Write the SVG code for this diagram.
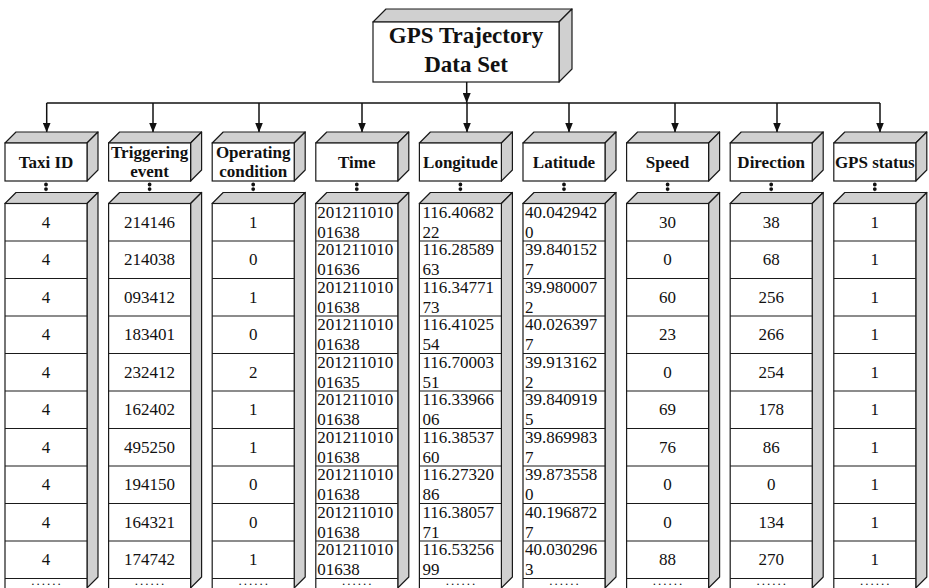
<svg xmlns="http://www.w3.org/2000/svg" width="929" height="588" viewBox="0 0 929 588">
<style>
.face{fill:#fff;stroke:#1a1a1a;stroke-width:1.2}
.shade{fill:#d0d0d0;stroke:#1a1a1a;stroke-width:1.2;stroke-linejoin:round}
.row{stroke:#1a1a1a;stroke-width:1.2}
.ttl{font-family:"Liberation Serif","Times New Roman",serif;font-weight:bold;font-size:23px;text-anchor:middle;fill:#111}
.hd{font-family:"Liberation Serif","Times New Roman",serif;font-weight:bold;font-size:17px;text-anchor:middle;fill:#111}
.c{font-family:"Liberation Serif","Times New Roman",serif;font-size:17px;text-anchor:middle;fill:#111}
.l{font-family:"Liberation Serif","Times New Roman",serif;font-size:17px;text-anchor:start;fill:#111}
.dots{font-family:"Liberation Serif","Times New Roman",serif;font-size:13px;letter-spacing:2px;text-anchor:middle;fill:#111}
.wire{stroke:#111;stroke-width:1.5;fill:none}
.dotc{stroke:#111;stroke-width:3.8;stroke-linecap:round;stroke-dasharray:0 4.6;fill:none}
</style>
<defs>
<marker id="ah" viewBox="0 0 10 8" refX="10" refY="4" markerWidth="10" markerHeight="8" markerUnits="userSpaceOnUse" orient="auto">
<path d="M0,0 L10,4 L0,8 z" fill="#111"/>
</marker>
<g id="hbox">
<polygon class="shade" points="0,143 11,132 93,132 82,143"/>
<polygon class="shade" points="82,143 93,132 93,170 82,181"/>
<rect class="face" x="0" y="143" width="82" height="38"/>
</g>
<g id="dcol">
<polygon class="shade" points="0,203.5 11,192.5 93,192.5 82,203.5"/>
<polygon class="shade" points="82,203.5 93,192.5 93,577 82,588"/>
<rect class="face" x="0" y="203.5" width="82" height="386"/>
<path class="row" d="M0,241H82M0,278.5H82M0,316H82M0,353.5H82M0,391H82M0,428.5H82M0,466H82M0,503.5H82M0,541H82M0,578.5H82"/>
<text class="dots" x="42" y="585">......</text>
</g>
</defs>

<g id="title">
<polygon class="shade" points="373,22 386,9 572,9 559,22"/>
<polygon class="shade" points="559,22 572,9 572,69 559,82"/>
<rect class="face" x="373" y="22" width="186" height="60"/>
<text class="ttl" x="466" y="43">GPS Trajectory</text>
<text class="ttl" x="466" y="72">Data Set</text>
</g>

<g id="connectors">
<line class="wire" x1="466.7" y1="82" x2="466.7" y2="103" marker-end="url(#ah)"/>
<line class="wire" x1="46.7" y1="103" x2="880" y2="103"/>
<line class="wire" x1="46.7" y1="103" x2="46.7" y2="132.5" marker-end="url(#ah)"/>
<line class="wire" x1="153" y1="103" x2="153" y2="132.5" marker-end="url(#ah)"/>
<line class="wire" x1="259" y1="103" x2="259" y2="132.5" marker-end="url(#ah)"/>
<line class="wire" x1="362" y1="103" x2="362" y2="132.5" marker-end="url(#ah)"/>
<line class="wire" x1="467" y1="103" x2="467" y2="132.5" marker-end="url(#ah)"/>
<line class="wire" x1="569" y1="103" x2="569" y2="132.5" marker-end="url(#ah)"/>
<line class="wire" x1="675" y1="103" x2="675" y2="132.5" marker-end="url(#ah)"/>
<line class="wire" x1="777" y1="103" x2="777" y2="132.5" marker-end="url(#ah)"/>
<line class="wire" x1="880" y1="103" x2="880" y2="132.5" marker-end="url(#ah)"/>
<path class="dotc" d="M46,184.5V195M149.6,184.5V195M253.2,184.5V195M356.8,184.5V195M460.4,184.5V195M564,184.5V195M667.6,184.5V195M771.2,184.5V195M874.8,184.5V195"/>
</g>

<g id="hdr-taxi" transform="translate(5,0)"><use href="#hbox"/><text class="hd" x="41" y="168">Taxi ID</text></g>
<g id="hdr-trigger" transform="translate(108.6,0)"><use href="#hbox"/><text class="hd" x="41" y="157.5">Triggering</text><text class="hd" x="41" y="177">event</text></g>
<g id="hdr-operating" transform="translate(212.2,0)"><use href="#hbox"/><text class="hd" x="41" y="157.5">Operating</text><text class="hd" x="41" y="177">condition</text></g>
<g id="hdr-time" transform="translate(315.8,0)"><use href="#hbox"/><text class="hd" x="41" y="167.5">Time</text></g>
<g id="hdr-longitude" transform="translate(419.4,0)"><use href="#hbox"/><text class="hd" x="41" y="167.5">Longitude</text></g>
<g id="hdr-latitude" transform="translate(523,0)"><use href="#hbox"/><text class="hd" x="41" y="167.5">Latitude</text></g>
<g id="hdr-speed" transform="translate(626.6,0)"><use href="#hbox"/><text class="hd" x="41" y="167.5">Speed</text></g>
<g id="hdr-direction" transform="translate(730.2,0)"><use href="#hbox"/><text class="hd" x="41" y="167.5">Direction</text></g>
<g id="hdr-gps" transform="translate(833.8,0)"><use href="#hbox"/><text class="hd" x="41" y="167.5">GPS status</text></g>

<g id="col-taxi" transform="translate(5,0)"><use href="#dcol"/>
<text class="c" x="41" y="227.5">4</text><text class="c" x="41" y="265">4</text><text class="c" x="41" y="302.5">4</text><text class="c" x="41" y="340">4</text><text class="c" x="41" y="377.5">4</text><text class="c" x="41" y="415">4</text><text class="c" x="41" y="452.5">4</text><text class="c" x="41" y="490">4</text><text class="c" x="41" y="527.5">4</text><text class="c" x="41" y="565">4</text>
</g>
<g id="col-trigger" transform="translate(108.6,0)"><use href="#dcol"/>
<text class="c" x="41" y="227.5">214146</text><text class="c" x="41" y="265">214038</text><text class="c" x="41" y="302.5">093412</text><text class="c" x="41" y="340">183401</text><text class="c" x="41" y="377.5">232412</text><text class="c" x="41" y="415">162402</text><text class="c" x="41" y="452.5">495250</text><text class="c" x="41" y="490">194150</text><text class="c" x="41" y="527.5">164321</text><text class="c" x="41" y="565">174742</text>
</g>
<g id="col-operating" transform="translate(212.2,0)"><use href="#dcol"/>
<text class="c" x="41" y="227.5">1</text><text class="c" x="41" y="265">0</text><text class="c" x="41" y="302.5">1</text><text class="c" x="41" y="340">0</text><text class="c" x="41" y="377.5">2</text><text class="c" x="41" y="415">1</text><text class="c" x="41" y="452.5">1</text><text class="c" x="41" y="490">0</text><text class="c" x="41" y="527.5">0</text><text class="c" x="41" y="565">1</text>
</g>
<g id="col-time" transform="translate(315.8,0)"><use href="#dcol"/>
<text class="l" x="1.5" y="217.5">201211010<tspan x="1.5" y="237.5">01638</tspan></text>
<text class="l" x="1.5" y="255">201211010<tspan x="1.5" y="275">01636</tspan></text>
<text class="l" x="1.5" y="292.5">201211010<tspan x="1.5" y="312.5">01638</tspan></text>
<text class="l" x="1.5" y="330">201211010<tspan x="1.5" y="350">01638</tspan></text>
<text class="l" x="1.5" y="367.5">201211010<tspan x="1.5" y="387.5">01635</tspan></text>
<text class="l" x="1.5" y="405">201211010<tspan x="1.5" y="425">01638</tspan></text>
<text class="l" x="1.5" y="442.5">201211010<tspan x="1.5" y="462.5">01638</tspan></text>
<text class="l" x="1.5" y="480">201211010<tspan x="1.5" y="500">01638</tspan></text>
<text class="l" x="1.5" y="517.5">201211010<tspan x="1.5" y="537.5">01638</tspan></text>
<text class="l" x="1.5" y="555">201211010<tspan x="1.5" y="575">01638</tspan></text>
</g>
<g id="col-longitude" transform="translate(419.4,0)"><use href="#dcol"/>
<text class="l" x="3" y="217.5">116.40682<tspan x="3" y="237.5">22</tspan></text>
<text class="l" x="3" y="255">116.28589<tspan x="3" y="275">63</tspan></text>
<text class="l" x="3" y="292.5">116.34771<tspan x="3" y="312.5">73</tspan></text>
<text class="l" x="3" y="330">116.41025<tspan x="3" y="350">54</tspan></text>
<text class="l" x="3" y="367.5">116.70003<tspan x="3" y="387.5">51</tspan></text>
<text class="l" x="3" y="405">116.33966<tspan x="3" y="425">06</tspan></text>
<text class="l" x="3" y="442.5">116.38537<tspan x="3" y="462.5">60</tspan></text>
<text class="l" x="3" y="480">116.27320<tspan x="3" y="500">86</tspan></text>
<text class="l" x="3" y="517.5">116.38057<tspan x="3" y="537.5">71</tspan></text>
<text class="l" x="3" y="555">116.53256<tspan x="3" y="575">99</tspan></text>
</g>
<g id="col-latitude" transform="translate(523,0)"><use href="#dcol"/>
<text class="l" x="2" y="217.5">40.042942<tspan x="2" y="237.5">0</tspan></text>
<text class="l" x="2" y="255">39.840152<tspan x="2" y="275">7</tspan></text>
<text class="l" x="2" y="292.5">39.980007<tspan x="2" y="312.5">2</tspan></text>
<text class="l" x="2" y="330">40.026397<tspan x="2" y="350">7</tspan></text>
<text class="l" x="2" y="367.5">39.913162<tspan x="2" y="387.5">2</tspan></text>
<text class="l" x="2" y="405">39.840919<tspan x="2" y="425">5</tspan></text>
<text class="l" x="2" y="442.5">39.869983<tspan x="2" y="462.5">7</tspan></text>
<text class="l" x="2" y="480">39.873558<tspan x="2" y="500">0</tspan></text>
<text class="l" x="2" y="517.5">40.196872<tspan x="2" y="537.5">7</tspan></text>
<text class="l" x="2" y="555">40.030296<tspan x="2" y="575">3</tspan></text>
</g>
<g id="col-speed" transform="translate(626.6,0)"><use href="#dcol"/>
<text class="c" x="41" y="227.5">30</text><text class="c" x="41" y="265">0</text><text class="c" x="41" y="302.5">60</text><text class="c" x="41" y="340">23</text><text class="c" x="41" y="377.5">0</text><text class="c" x="41" y="415">69</text><text class="c" x="41" y="452.5">76</text><text class="c" x="41" y="490">0</text><text class="c" x="41" y="527.5">0</text><text class="c" x="41" y="565">88</text>
</g>
<g id="col-direction" transform="translate(730.2,0)"><use href="#dcol"/>
<text class="c" x="41" y="227.5">38</text><text class="c" x="41" y="265">68</text><text class="c" x="41" y="302.5">256</text><text class="c" x="41" y="340">266</text><text class="c" x="41" y="377.5">254</text><text class="c" x="41" y="415">178</text><text class="c" x="41" y="452.5">86</text><text class="c" x="41" y="490">0</text><text class="c" x="41" y="527.5">134</text><text class="c" x="41" y="565">270</text>
</g>
<g id="col-gps" transform="translate(833.8,0)"><use href="#dcol"/>
<text class="c" x="41" y="227.5">1</text><text class="c" x="41" y="265">1</text><text class="c" x="41" y="302.5">1</text><text class="c" x="41" y="340">1</text><text class="c" x="41" y="377.5">1</text><text class="c" x="41" y="415">1</text><text class="c" x="41" y="452.5">1</text><text class="c" x="41" y="490">1</text><text class="c" x="41" y="527.5">1</text><text class="c" x="41" y="565">1</text>
</g>
</svg>
